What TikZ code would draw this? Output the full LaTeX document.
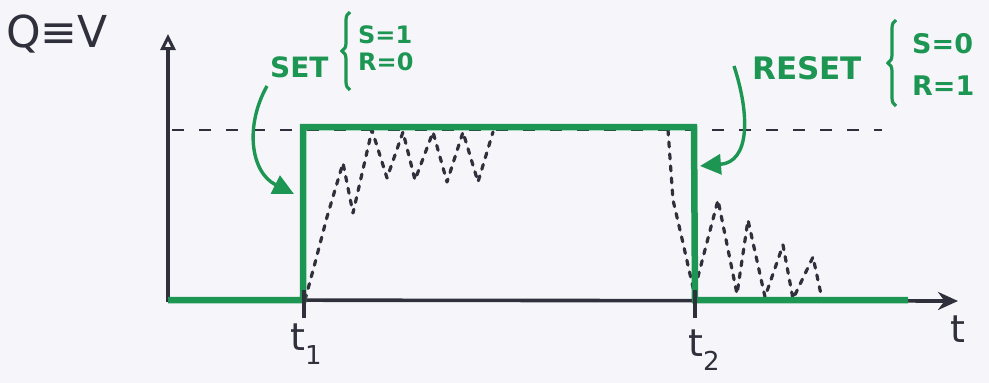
\documentclass[tikz,border=0pt]{standalone}
\usepackage{fontspec}
\setmainfont{DejaVu Sans}
\usetikzlibrary{arrows.meta,decorations.pathreplacing}
\definecolor{mkgreen}{RGB}{28,150,82}
\definecolor{ink}{RGB}{48,48,60}
\definecolor{paper}{RGB}{246,246,250}
\newcommand{\tsub}[1]{t\raisebox{-0.35em}{\fontsize{26}{26}\selectfont #1}}
\begin{document}
\begin{tikzpicture}[x=1pt,y=-1pt,
  axis/.style={ink,line width=3.6pt},
  level/.style={ink,line width=2.2pt,dash pattern=on 12pt off 15pt},
  pulse/.style={mkgreen,line width=6.5pt,line join=miter},
  dots/.style={ink,line width=3.2pt,dash pattern=on 5pt off 7pt,line cap=round,line join=round},
  callout/.style={mkgreen,line width=3.4pt,-{Triangle[length=21pt,width=20pt]}},
  lbl/.style={mkgreen,font=\bfseries\fontsize{28}{28}\selectfont,inner sep=0pt},
  cond/.style={mkgreen,font=\bfseries\fontsize{24}{27}\selectfont,align=left,inner sep=0pt},
  axlbl/.style={ink,font=\fontsize{38}{38}\selectfont,inner sep=0pt},
  brc/.style={mkgreen,line width=3.2pt,decorate,decoration={brace,amplitude=8pt}}]
\useasboundingbox (0,0) rectangle (989,383);
\fill[paper] (0,0) rectangle (989,383);
% axes
\coordinate (O) at (168,300);
\coordinate (ytop) at (168,34);
\coordinate (xend) at (958,301);
\draw[level] (172,130) -- (882,130);
\draw[axis,-{Triangle[open,length=16pt,width=15pt,line width=3pt]}] (168,302) -- (ytop);
\draw[axis,-{Stealth[length=20pt,width=18pt]}] (O) -- (xend);
% dotted response
\draw[dots] (305,300) -- (315,263) -- (327,217) -- (343,163) -- (353,213) -- (372,130)
  -- (387,178) -- (403,132) -- (415,180) -- (433,132) -- (447,182) -- (463,132)
  -- (478,182) -- (493,132);
\draw[dots] (668,130) -- (673,200) -- (683,243) -- (694,292) -- (718,200) -- (737,294)
  -- (748,220) -- (765,297) -- (783,245) -- (793,299) -- (813,257) -- (822,299);
% green pulse
\coordinate (t1) at (303,300);
\coordinate (t2) at (695,300);
\draw[pulse] (O) -- (t1) -- (303,127) -- (694,127) -- (t2) -- (908,300);
% ticks
\draw[axis] (304,290) -- (304,318);
\draw[axis] (695,290) -- (695,318);
% labels
\node[axlbl,font=\fontsize{44}{44}\selectfont,anchor=west] (qv) at (6,34) {Q≡V};
\node[axlbl,anchor=north west] (lt1) at (290,324) {\tsub{1}};
\node[axlbl,anchor=north west] (lt2) at (688,330) {\tsub{2}};
\node[axlbl,anchor=north west] (lt) at (950,316) {t};
\node[lbl,anchor=west] (set) at (270,67) {SET};
\node[cond,anchor=west] (setc) at (358,48) {S=1\\R=0};
\draw[brc] (350,90) -- (350,12);
\node[lbl,font=\bfseries\fontsize{31}{31}\selectfont,anchor=west] (reset) at (752,68) {RESET};
\node[cond,font=\bfseries\fontsize{27}{42}\selectfont,anchor=west] (resetc) at (912,64) {S=0\\R=1};
\draw[brc] (896,106) -- (896,20);
% callout arrows
\coordinate (sa) at (267,86);
\coordinate (ra) at (734,66);
\draw[callout] (sa) .. controls (245,125) and (250,172) .. (294,194);
\draw[callout] (ra) .. controls (750,115) and (750,162) .. (700,166);
\end{tikzpicture}
\end{document}
